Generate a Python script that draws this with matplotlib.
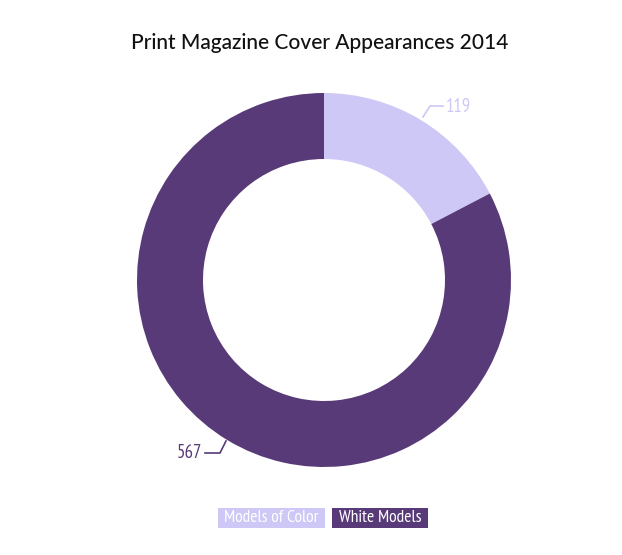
import matplotlib
matplotlib.use("Agg")
import matplotlib.pyplot as plt
from matplotlib import font_manager
from matplotlib.patches import Rectangle

names = {f.name for f in font_manager.fontManager.ttflist}
narrow = next((n for n in ["PT Sans Narrow", "Roboto Condensed", "Open Sans Condensed",
                           "Sofia Sans Semi Condensed", "Sofia Sans Condensed",
                           "DejaVu Sans"] if n in names), "DejaVu Sans")

categories = ["Models of Color", "White Models"]
values = [119, 567]
colors = ["#cdc8f5", "#573a77"]
title = "Print Magazine Cover Appearances 2014"

W, H = 622, 555
fig = plt.figure(figsize=(W / 100, H / 100), dpi=100)
ax = fig.add_axes([0, 0, 1, 1])

cx, cy, R = 324, H - 280, 187
ax.pie(values, colors=colors, startangle=90, counterclock=False,
       center=(cx, cy), radius=R, wedgeprops=dict(width=R - 121, linewidth=0),
       frame=True)
ax.set_xlim(0, W)
ax.set_ylim(0, H)
ax.set_aspect("equal")
ax.axis("off")

# labels with leader lines
ax.plot([423, 430, 443], [H - 117, H - 106, H - 106], color=colors[0], lw=1.2)
ax.text(446, H - 107, str(values[0]), color=colors[0], fontsize=13.5,
        family=narrow, va="center", ha="left")
ax.plot([226, 220, 205], [H - 441, H - 453, H - 453], color=colors[1], lw=1.2)
ax.text(202, H - 453, str(values[1]), color=colors[1], fontsize=13.5,
        family=narrow, va="center", ha="right")

fig.text(320 / W, 1 - 43 / H, title, ha="center", va="center", fontsize=15,
         family="Lato", weight="medium", color="#111111")

# legend boxes
boxes = [(218, 325), (332, 428)]
for (x0, x1), lab, c in zip(boxes, categories, colors):
    ax.add_patch(Rectangle((x0, H - 528), x1 - x0, 20, fc=c, ec="none"))
    ax.text((x0 + x1) / 2, H - 518.5, lab, ha="center", va="center", color="white",
            fontsize=12.6, family=narrow)

fig.savefig("out.png", dpi=100)
